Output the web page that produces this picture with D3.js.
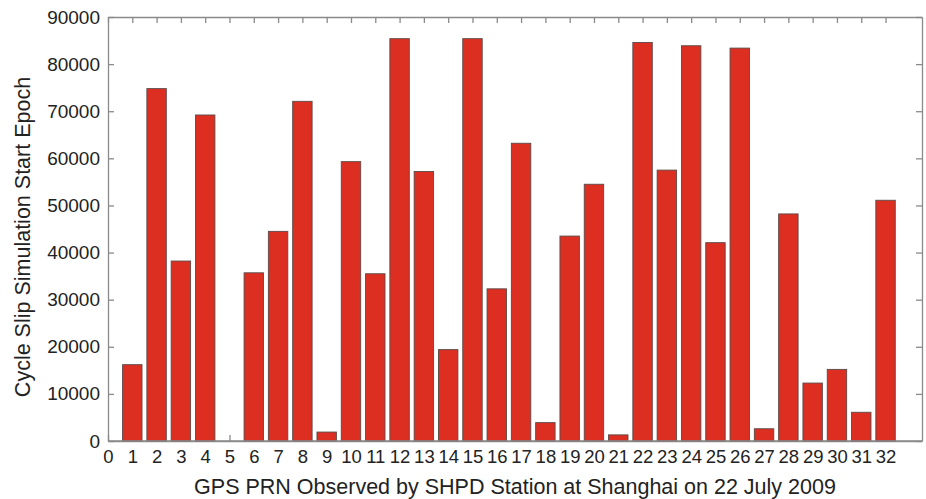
<!DOCTYPE html>
<html>
<head>
<meta charset="utf-8">
<script src="https://cdn.jsdelivr.net/npm/d3@7"></script>
<style>
  body { margin: 0; background: #fff; }
  text { font-family: "Liberation Sans", Arial, sans-serif; fill: #222; }
  .axis path, .axis line { stroke: #8a8a8a; stroke-width: 1.3; }
</style>
</head>
<body>
<svg id="chart"></svg>
<script>
const PRN = d3.range(1, 33);
const START_EPOCH = [
  16200, 74800, 38200, 69200, 0, 35700, 44500, 72100,
  1900, 59300, 35500, 85400, 57200, 19400, 85400, 32300,
  63200, 3900, 43500, 54500, 1300, 84600, 57500, 83900,
  42100, 83400, 2600, 48200, 12300, 15200, 6100, 51100
];
const X_TICKS = d3.range(0, 33);
const Y_TICKS = d3.range(0, 90001, 10000);

const width = 926, height = 499;
const margin = { top: 17, right: 4, bottom: 58, left: 108 };
const innerW = width - margin.left - margin.right;
const innerH = height - margin.top - margin.bottom;

const svg = d3.select("#chart").attr("width", width).attr("height", height);
const g = svg.append("g").attr("transform", `translate(${margin.left},${margin.top})`);

const x = d3.scaleLinear().domain([0, 33.5]).range([0, innerW]);
const y = d3.scaleLinear().domain([0, 90000]).range([innerH, 0]);
const barW = (x(1) - x(0)) * 0.8;

const data = PRN.map((p, i) => ({ prn: p, value: START_EPOCH[i] }));

// inner ticks on all four sides
g.append("g").attr("class", "axis")
  .attr("transform", `translate(0,${innerH})`)
  .call(d3.axisBottom(x).tickValues(X_TICKS).tickSize(-6).tickPadding(9).tickSizeOuter(0))
  .call(s => s.selectAll("text").attr("font-size", 18.5).attr("dy", "0.71em"));

g.append("g").attr("class", "axis")
  .call(d3.axisTop(x).tickValues(X_TICKS).tickSize(-6).tickFormat("").tickSizeOuter(0));

g.append("g").attr("class", "axis")
  .call(d3.axisLeft(y).tickValues(Y_TICKS).tickSize(-6).tickPadding(8).tickSizeOuter(0).tickFormat(d3.format("d")))
  .call(s => s.selectAll("text").attr("font-size", 19));

g.append("g").attr("class", "axis")
  .attr("transform", `translate(${innerW},0)`)
  .call(d3.axisRight(y).tickValues(Y_TICKS).tickSize(-6).tickFormat("").tickSizeOuter(0));

g.selectAll("rect.bar")
  .data(data)
  .join("rect")
  .attr("class", "bar")
  .attr("x", d => x(d.prn) - barW / 2)
  .attr("y", d => y(d.value))
  .attr("width", barW)
  .attr("height", d => innerH - y(d.value))
  .attr("fill", "#dc2f22")
  .attr("stroke", "#5a4a48")
  .attr("stroke-width", 0.9);

// redraw bottom axis line on top of bars
g.append("line")
  .attr("x1", 0).attr("x2", innerW)
  .attr("y1", innerH).attr("y2", innerH)
  .attr("stroke", "#8a8a8a").attr("stroke-width", 1.3);

svg.append("text")
  .attr("x", margin.left + innerW / 2)
  .attr("y", 494)
  .attr("text-anchor", "middle")
  .attr("font-size", 21.5)
  .text("GPS PRN Observed by SHPD Station at Shanghai on 22 July 2009");

svg.append("text")
  .attr("transform", `translate(30,${margin.top + innerH / 2 + 8}) rotate(-90)`)
  .attr("text-anchor", "middle")
  .attr("font-size", 21.5)
  .text("Cycle Slip Simulation Start Epoch");
</script>
</body>
</html>
